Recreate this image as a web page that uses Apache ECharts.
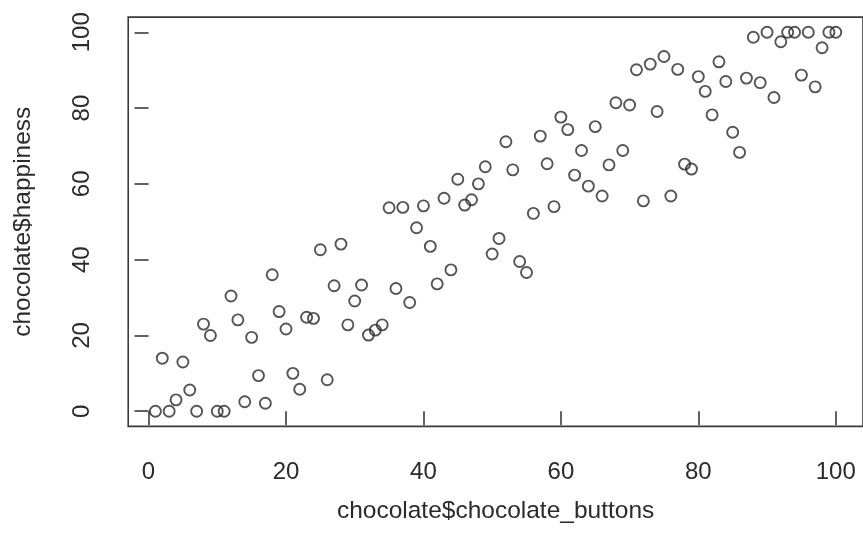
<!DOCTYPE html>
<html>
<head>
<meta charset="utf-8">
<script src="https://cdn.jsdelivr.net/npm/echarts@6/dist/echarts.min.js"></script>
<style>
  html, body { margin: 0; padding: 0; background: #fff; }
  #chart { width: 863px; height: 547px; }
</style>
</head>
<body>
<div id="chart"></div>
<script>
const chocolateButtons = [
  1, 2, 3, 4, 5, 6, 7, 8, 9, 10,
  11, 12, 13, 14, 15, 16, 17, 18, 19, 20,
  21, 22, 23, 24, 25, 26, 27, 28, 29, 30,
  31, 32, 33, 34, 35, 36, 37, 38, 39, 40,
  41, 42, 43, 44, 45, 46, 47, 48, 49, 50,
  51, 52, 53, 54, 55, 56, 57, 58, 59, 60,
  61, 62, 63, 64, 65, 66, 67, 68, 69, 70,
  71, 72, 73, 74, 75, 76, 77, 78, 79, 80,
  81, 82, 83, 84, 85, 86, 87, 88, 89, 90,
  91, 92, 93, 94, 95, 96, 97, 98, 99, 100
];
const happiness = [
  0, 14, 0, 3, 13, 5.6, 0, 23, 20, 0,
  0, 30.4, 24.1, 2.5, 19.5, 9.4, 2.1, 36, 26.3, 21.7,
  10, 5.8, 24.8, 24.5, 42.6, 8.3, 33.1, 44.1, 22.8, 29.1,
  33.3, 20.1, 21.4, 22.8, 53.7, 32.4, 53.8, 28.7, 48.4, 54.2,
  43.5, 33.6, 56.2, 37.3, 61.2, 54.4, 55.8, 60, 64.5, 41.5,
  45.6, 71.1, 63.7, 39.5, 36.6, 52.2, 72.6, 65.3, 54, 77.6,
  74.3, 62.3, 68.8, 59.4, 75.1, 56.8, 65, 81.4, 68.8, 80.8,
  90.1, 55.5, 91.6, 79.1, 93.6, 56.8, 90.2, 65.2, 63.9, 88.3,
  84.4, 78.2, 92.2, 87, 73.6, 68.3, 87.9, 98.7, 86.7, 100,
  82.8, 97.5, 100, 100, 88.7, 100, 85.6, 95.9, 100, 100
];
const xTicks = [0, 20, 40, 60, 80, 100];
const yTicks = [0, 20, 40, 60, 80, 100];
const xLabel = 'chocolate$chocolate_buttons';
const yLabel = 'chocolate$happiness';

const points = chocolateButtons.map((x, i) => [x, happiness[i]]);
const font = '"Liberation Sans", Arial, Helvetica, sans-serif';
const ink = '#2b2b2b';

const chart = echarts.init(document.getElementById('chart'), null, { renderer: 'canvas' });
chart.setOption({
  animation: false,
  backgroundColor: '#fff',
  grid: {
    show: true,
    left: 128.2,
    top: 17.1,
    width: 738.5,
    height: 409.3,
    borderColor: '#3a3a3a',
    borderWidth: 1.6,
    backgroundColor: 'transparent'
  },
  xAxis: {
    type: 'value',
    min: -2.96,
    max: 103.96,
    splitLine: { show: false },
    axisLine: { show: false },
    axisTick: { show: true, inside: false, length: 14, customValues: xTicks, lineStyle: { color: '#3a3a3a', width: 1.6 } },
    axisLabel: { customValues: xTicks, margin: 34, fontSize: 24, color: ink, fontFamily: font },
    name: xLabel,
    nameLocation: 'middle',
    nameGap: 72,
    nameTextStyle: { fontSize: 24.5, color: ink, fontFamily: font }
  },
  yAxis: {
    type: 'value',
    min: -4,
    max: 104,
    splitLine: { show: false },
    axisLine: { show: false },
    axisTick: { show: true, inside: false, length: 14, customValues: yTicks, lineStyle: { color: '#3a3a3a', width: 1.6 } },
    axisLabel: { customValues: yTicks, rotate: 90, margin: 34, fontSize: 24, color: ink, fontFamily: font },
    name: yLabel,
    nameLocation: 'middle',
    nameGap: 92,
    nameRotate: 90,
    nameTextStyle: { fontSize: 24.5, color: ink, fontFamily: font }
  },
  series: [{
    type: 'scatter',
    data: points,
    symbol: 'circle',
    symbolSize: 11,
    silent: true,
    itemStyle: { color: 'rgba(0,0,0,0)', borderColor: ink, borderWidth: 1.9 }
  }]
});
</script>
</body>
</html>
